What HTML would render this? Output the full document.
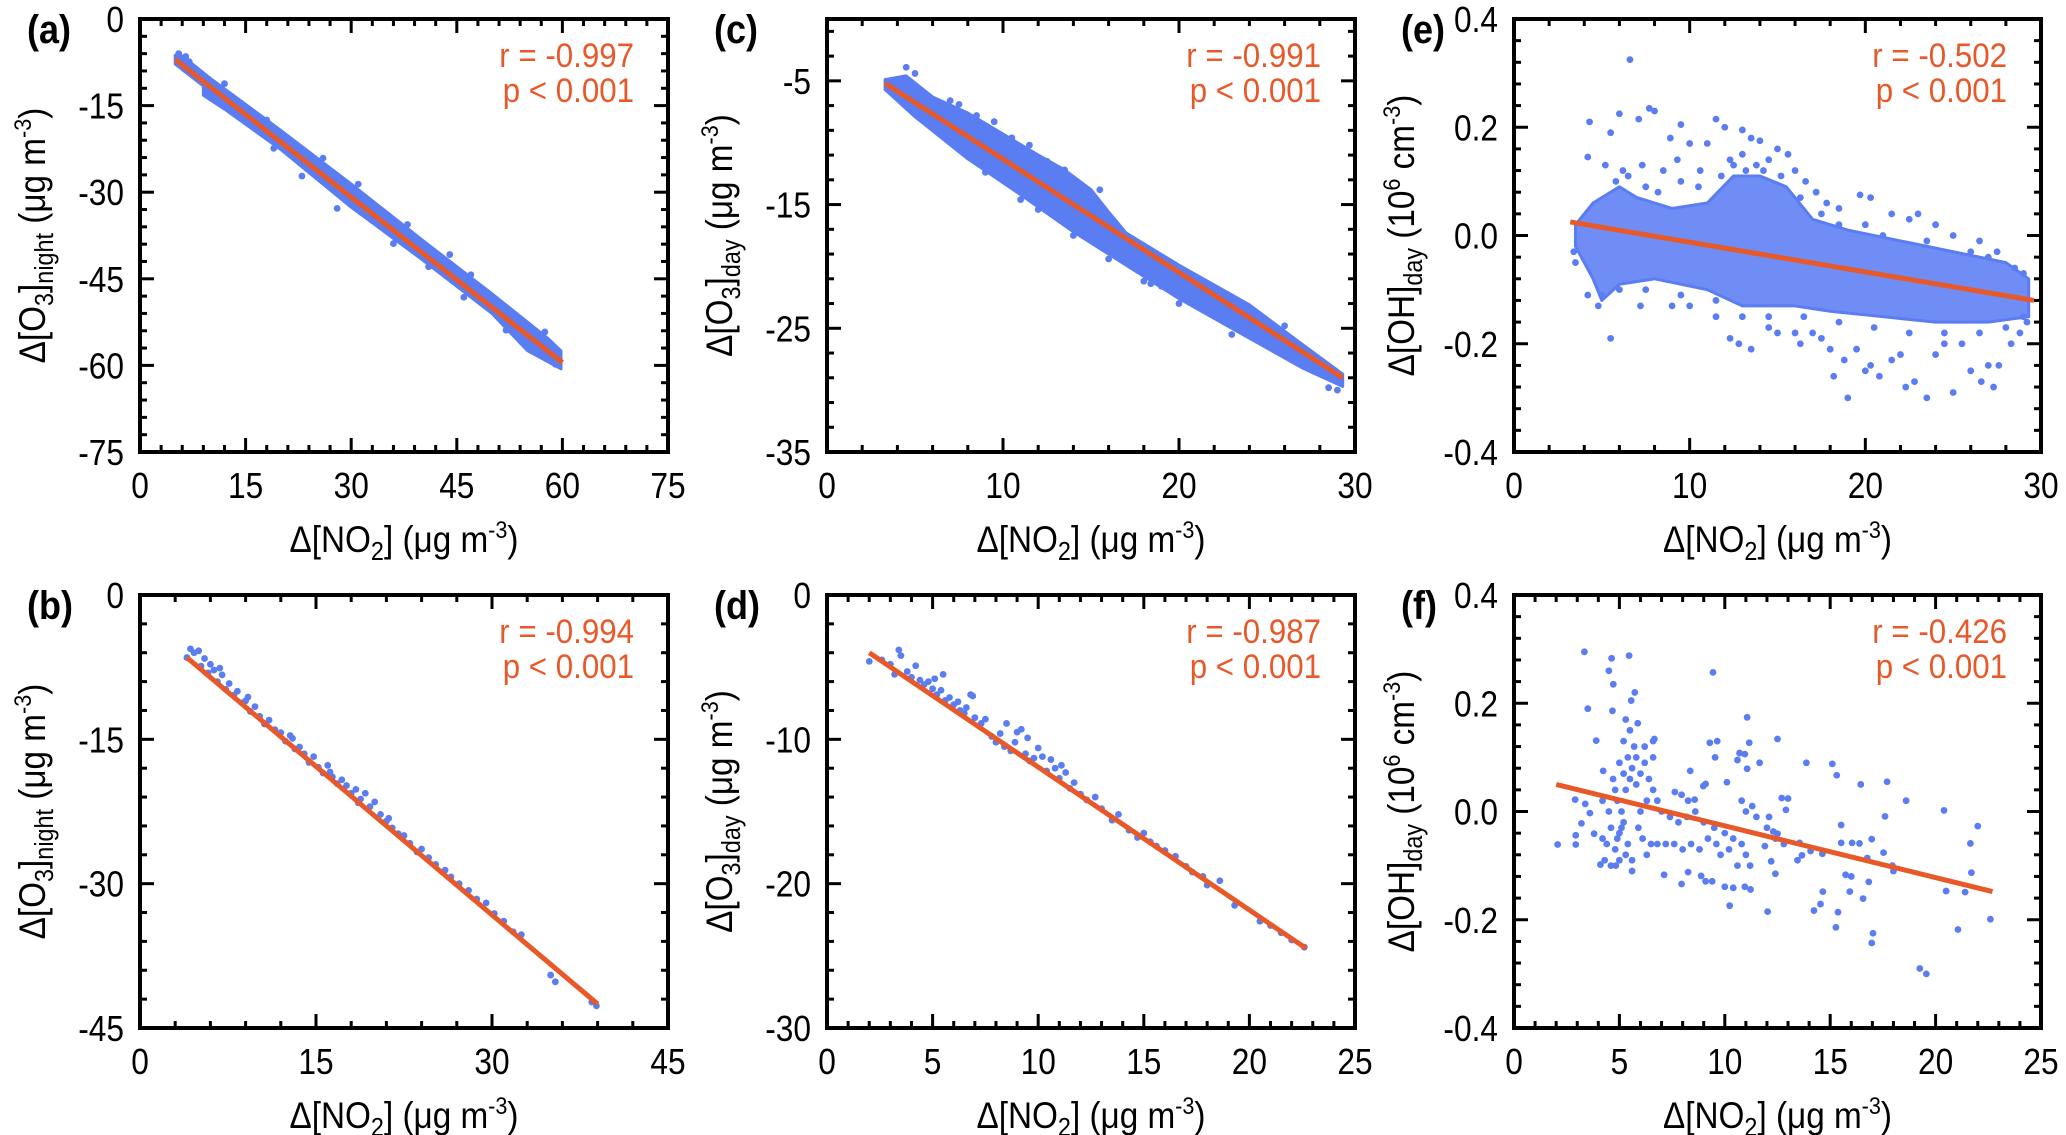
<!DOCTYPE html>
<html><head><meta charset="utf-8"><style>
html,body{margin:0;padding:0;background:#fff;}
svg{display:block;font-family:"Liberation Sans",Arial,sans-serif;}
</style></head><body>
<svg id="fig" xmlns="http://www.w3.org/2000/svg" width="2066" height="1135" viewBox="0 0 2066 1135"></svg>
<script>
// ---------- DATA ----------
const aLine = [[5, -7], [60, -59.5]];
const aBand = [[5,-6.3],[6,-6.4],[10,-10.3],[20,-19.3],[30,-28.6],[40,-38.2],[50,-47.6],[58,-55.4],[59.8,-57.5],[59.8,-60.6],[55,-57.4],[50,-51],[40,-41.6],[30,-32.6],[20,-22.6],[12,-15.6],[9,-13.2],[9,-11.6],[5,-7.8]];
const aPts = [[5.5,-6],[6.5,-6.5],[7,-7.4],[9.5,-12.8],[12,-11.2],[13,-14.8],[18,-17.5],[19,-22.4],[23,-27.2],[26,-24.1],[28,-32.8],[31,-28.6],[33,-34.9],[36,-38.9],[38,-35.6],[41,-42.9],[44,-40.8],[46,-48.2],[47,-44.3],[50,-48.2],[52,-53.9],[55,-52.9],[57,-57.6],[58,-58.3],[59,-59.8],[57.5,-54.2]];
const cLine = [[3.3, -5.2], [29.3, -29]];
const cBand = [[3.3,-4.9],[4.5,-4.6],[6,-6.3],[8,-7.6],[10,-9.3],[12,-11],[13.5,-12.2],[15,-13.8],[16,-15.6],[17,-17.3],[20,-19.9],[24,-23.1],[27,-26.3],[29.3,-28.7],[29.3,-29.7],[27,-28.2],[24,-25.8],[20,-22.6],[17,-19.9],[14,-17.2],[11,-14.2],[8,-11.3],[5,-7.9],[3.3,-5.7]];
const cPts = [[4.5,-3.9],[5,-4.4],[7,-6.6],[8.5,-7.8],[9.5,-8.3],[10.5,-9.6],[12.5,-11.5],[13.5,-12.2],[15.5,-13.8],[18,-21.2],[18.4,-21.4],[19,-21.6],[22,-22.8],[26,-24.8],[28.5,-29.8],[29,-30],[9,-12.4],[11,-14.6],[12,-15.4],[14,-17.5],[16,-19.4],[20,-23],[23,-25.5],[6,-8],[7.5,-6.9],[11.5,-10.2]];
const bLine = [[4, -6.5], [39, -42.5]];
const bPts = [[4,-6.5],[4.3,-5.6],[4.6,-6],[5,-5.8],[5.2,-7.4],[5.5,-6.6],[5.8,-8.1],[6,-7.2],[6.3,-7.8],[6.6,-9],[7,-8.3],[7.3,-9.8],[7.6,-9.2],[8,-10.4],[8.3,-10],[8.7,-11.2],[9,-11],[9.4,-12.1],[9.8,-11.6],[10.2,-12.6],[10.6,-13.4],[11,-13],[11.5,-14],[12,-14.3],[12.4,-15.2],[12.8,-14.6],[13.2,-16],[13.6,-15.8],[14,-16.5],[14.4,-17.4],[14.8,-16.8],[15.2,-17.9],[15.6,-18.5],[16,-17.7],[16.4,-18.9],[16.8,-19.6],[17.2,-19.2],[17.6,-19.8],[18,-20.6],[18.4,-20.2],[18.8,-21.2],[19.2,-20.6],[19.6,-22],[20,-21.5],[20.5,-22.8],[21,-23.5],[21.5,-24.2],[22,-24.8],[22.5,-25],[23,-25.8],[23.6,-26.7],[24,-26.4],[24.6,-27.3],[25.2,-28],[26,-28.6],[26.5,-29.3],[27.2,-30],[28,-30.7],[28.7,-31.6],[29.5,-32],[30.2,-33.1],[31,-33.9],[31.8,-35],[32.5,-35.3],[35,-39.5],[35.4,-40.2],[38.5,-42.3],[38.9,-42.7],[6.8,-7.6],[9.2,-10.6],[13,-14.9],[16.2,-18.4],[18.6,-21.6],[21.2,-23.2]];
const dLine = [[2, -4], [22.7, -24.5]];
const dPts = [[2,-4.6],[2.6,-4.5],[3,-4.8],[3.4,-3.8],[3.5,-4.2],[3.2,-5.5],[3.8,-5.3],[4,-5.7],[4.2,-4.9],[4.4,-5.9],[4.6,-6.2],[4.8,-6],[5,-6.5],[5.1,-5.8],[5.2,-6.9],[5.4,-6.6],[5.5,-5.5],[5.6,-7.3],[5.8,-7.1],[6,-7.6],[6.2,-7.4],[6.3,-8],[6.5,-8.2],[6.6,-7.8],[6.8,-6.9],[6.9,-7],[7,-8.5],[7.3,-8.9],[7.5,-8.6],[7.8,-9.8],[8,-10.2],[8.2,-9.6],[8.4,-10.5],[8.5,-8.9],[8.7,-10.8],[8.9,-10.2],[9,-9.5],[9.2,-9.3],[9.4,-11],[9.5,-9.9],[9.6,-11.5],[9.8,-11.3],[10,-10.6],[10.2,-11.2],[10.4,-12.2],[10.6,-11.4],[10.8,-12],[11,-12.7],[11.1,-11.8],[11.3,-12.3],[11.5,-13.4],[11.7,-13],[12,-13.8],[12.3,-14.2],[12.7,-14],[13,-14.8],[13.5,-15.6],[13.8,-15.2],[14.3,-16.3],[14.7,-16.8],[15,-16.5],[15.3,-17.1],[15.6,-17.4],[16,-17.7],[16.5,-18.1],[17,-18.8],[17.3,-19.2],[17.8,-19.5],[18,-20.1],[18.6,-19.8],[19.3,-21.5],[20.5,-22.6],[21,-22.9],[21.5,-23.4],[22,-23.9],[22.6,-24.4]];
const eLine = [[3.2, 0.025], [29.6, -0.12]];
const eCloud = [[3.5,0.02],[4.5,0.06],[6,0.09],[7,0.07],[9,0.05],[11,0.06],[12.5,0.11],[14,0.11],[15.5,0.09],[17,0.03],[19,0.01],[22,-0.01],[25,-0.03],[28,-0.05],[29.3,-0.08],[29.3,-0.15],[27,-0.16],[24,-0.16],[21,-0.15],[18,-0.14],[16,-0.13],[13,-0.13],[11,-0.1],[8,-0.08],[6,-0.09],[5,-0.12],[4.5,-0.08],[3.5,-0.02]];
const ePts = [[6.6,0.325],[7.7,0.235],[8,0.23],[6,0.225],[7.1,0.215],[4.3,0.21],[11.5,0.215],[9.5,0.205],[12,0.2],[13,0.195],[5.5,0.19],[8.9,0.18],[10,0.17],[11,0.17],[13.5,0.18],[14,0.175],[15,0.16],[15.6,0.15],[4.2,0.145],[5.2,0.13],[6.2,0.12],[7.3,0.13],[8.5,0.12],[9.3,0.14],[10.6,0.12],[12.3,0.14],[13,0.15],[13.8,0.13],[14.5,0.14],[16,0.12],[16.6,0.1],[17.2,0.08],[17.8,0.06],[18.5,0.05],[19.7,0.075],[20.3,0.07],[21.5,0.04],[22.5,0.03],[23,0.04],[24,0.02],[25,0.0],[26.5,-0.01],[27.5,-0.03],[28.5,-0.06],[3.4,-0.03],[3.5,-0.05],[4.2,-0.11],[4.8,-0.13],[5.5,-0.19],[7.2,-0.13],[9,-0.13],[10,-0.13],[11.5,-0.15],[12.3,-0.19],[12.8,-0.2],[13.5,-0.21],[14.5,-0.17],[15,-0.18],[16,-0.18],[16.3,-0.2],[17,-0.18],[17.5,-0.19],[18,-0.21],[18.2,-0.26],[18.8,-0.23],[19,-0.3],[19.5,-0.21],[20,-0.25],[20.3,-0.24],[20.8,-0.26],[21.5,-0.23],[22,-0.22],[22.3,-0.28],[22.8,-0.27],[23.5,-0.3],[24,-0.22],[24.5,-0.2],[25,-0.29],[25.5,-0.2],[26,-0.25],[26.6,-0.27],[27,-0.24],[27.3,-0.28],[27.6,-0.24],[28.3,-0.2],[28.8,-0.18],[29.2,-0.16],
[5.8,0.1],[6.5,0.11],[7.5,0.09],[8.2,0.08],[9.5,0.1],[10.5,0.09],[11.8,0.11],[12.5,0.13],[13.2,0.12],[14.2,0.12],[15.2,0.11],[16.3,0.07],[17.5,0.04],[18.5,0.02],[20,0.02],[21,0.0],[23.5,-0.01],[26,-0.03],[27,-0.04],[29,-0.07],[5,-0.11],[6,-0.1],[7.5,-0.1],[9.5,-0.11],[11.5,-0.12],[13,-0.15],[14.5,-0.15],[16.5,-0.15],[18.5,-0.16],[20.5,-0.17],[22.5,-0.18],[24.5,-0.18],[26.5,-0.18],[28,-0.17],[29,-0.15]];
const fLine = [[2, 0.05], [22.7, -0.148]];
const fPts = [[3.34,0.295],[4.63,0.283],[5.46,0.288],[4.5,0.26],[4.71,0.235],[3.5,0.19],[5.73,0.22],[5.56,0.205],[4.67,0.186],[9.44,0.257],[11.06,0.174],[3.9,0.131],[4.23,0.075],[5.87,0.163],[6.66,0.134],[9.29,0.127],[9.64,0.13],[9.54,0.1],[10.6,0.095],[10.95,0.106],[11.16,0.127],[11.06,0.079],[11.65,0.09],[12.5,0.134],[13.87,0.09],[15.1,0.088],[15.31,0.067],[16.45,0.05],[17.7,0.055],[18.6,0.02],[20.4,0.002],[22,-0.027],[21.65,-0.059],[21.7,-0.113],[21.4,-0.149],[21.06,-0.218],[22.6,-0.199],[20.5,-0.147],[19.25,-0.29],[19.56,-0.3],[17.03,-0.225],[16.97,-0.243],[15.27,-0.214],[15.37,-0.186],[14.23,-0.183],[14.54,-0.171],[14.65,-0.148],[15.93,-0.148],[16.56,-0.161],[16.83,-0.13],[15.73,-0.117],[16,-0.12],[15.52,-0.058],[16.04,-0.058],[16.39,-0.059],[15.52,-0.025],[16.97,-0.051],[17.6,-0.009],[17.53,-0.076],[16.76,-0.086],[17.95,-0.1],[18,-0.11],[14.63,-0.078],[14.07,-0.073],[13.45,-0.09],[13.66,-0.081],[12.03,-0.185],[10.23,-0.174],[10,-0.139],[10.4,-0.141],[10.95,-0.139],[11.22,-0.144],[9.4,-0.129],[9.09,-0.129],[8.26,-0.112],[7.95,-0.134],[7.12,-0.117],[8.88,-0.119],[4.83,-0.1],[4.1,-0.098],[2.07,-0.061],[2.93,-0.061],[2.93,-0.044],[2.9,0.022],[3.38,0.014],[3.6,-0.003],[3.2,-0.022],[3.8,-0.041],[7.63,0.036],[7.95,0.031],[8.36,0.075],[8.26,0.02],[8.57,0.022],[8.98,0.047],[9.09,0.051],[10.1,0.054],[10.7,0.108],[12.1,-0.01],[12.3,-0.037],[12.5,-0.041],[11.9,-0.064],[12.7,0.025],[13,0.024],[12.2,-0.092],[12.4,-0.115],[12.9,0.003],[13.55,-0.058],
[4.2,-0.05],[4.4,-0.06],[4.6,-0.03],[4.8,-0.07],[5,-0.04],[5.2,-0.02],[5.4,-0.06],[5.1,0],[4.9,0.02],[5.3,0.04],[5.5,0.06],[5.6,0.08],[5.4,0.1],[5.7,0.12],[5.2,0.13],[5.5,0.15],[5.8,0.05],[6,0.07],[6.2,0.09],[6.4,0.06],[6.6,0.04],[6.3,0.02],[6,0],[5.9,-0.03],[6.1,-0.05],[6.5,-0.06],[6.8,-0.06],[7.2,-0.06],[7.6,-0.06],[8,-0.07],[8.4,-0.06],[8.8,-0.07],[9.2,-0.05],[9.6,-0.06],[10,-0.04],[10.4,-0.05],[10.8,-0.06],[11,-0.08],[11.2,-0.1],[10.6,-0.1],[10.2,-0.07],[9.8,-0.08],[9.5,-0.03],[9,-0.02],[8.6,0],[8.2,-0.01],[7.8,-0.02],[7.4,-0.01],[7,0],[6.8,0.02],[11,0],[11.3,0.01],[10.8,0.02],[11.5,-0.01],[12,-0.03],[12.4,-0.05],[12.8,-0.06],[4.3,-0.09],[4.6,-0.1],[5,-0.09],[5.3,-0.08],[5.6,-0.09],[4.5,0],[4.2,0.02],[5.8,0.1],[6.2,0.12],[6.6,0.1],[4.7,0.06],[5,0.09],[5.3,0.17],[5.6,-0.11],[6.3,-0.08],[6.6,0.13],[5.1,-0.03],[4.9,-0.05],[5.2,0.07],[4.8,0.04]];
const aStats = ["r = -0.997", "p < 0.001"];
const bStats = ["r = -0.994", "p < 0.001"];
const cStats = ["r = -0.991", "p < 0.001"];
const dStats = ["r = -0.987", "p < 0.001"];
const eStats = ["r = -0.502", "p < 0.001"];
const fStats = ["r = -0.426", "p < 0.001"];
const xTicksA = [0,15,30,45,60,75];
const yTicksA = [0,-15,-30,-45,-60,-75];
const xTicksB = [0,15,30,45];
const yTicksB = [0,-15,-30,-45];
const xTicksC = [0,10,20,30];
const yTicksC = [-5,-15,-25,-35];
const xTicksD = [0,5,10,15,20,25];
const yTicksD = [0,-10,-20,-30];
const xTicksE = [0,10,20,30];
const yTicksE = [0.4,0.2,0.0,-0.2,-0.4];
const xTicksF = [0,5,10,15,20,25];
const yTicksF = [0.4,0.2,0.0,-0.2,-0.4];

// ---------- DRAW ----------
const NS = "http://www.w3.org/2000/svg";
const svg = document.getElementById('fig');
const BLUE = "#5b7df2", ORANGE = "#e8592a";
function mk(tag, attrs, parent) {
  const e = document.createElementNS(NS, tag);
  for (const k in attrs) e.setAttribute(k, attrs[k]);
  (parent || svg).appendChild(e);
  return e;
}
const O3N = 'Δ[O<tspan font-size="26" dy="8">3</tspan><tspan dy="-8">]</tspan><tspan font-size="26" dy="8">night</tspan><tspan dy="-8"> (μg m</tspan><tspan font-size="24" dy="-14">-3</tspan><tspan dy="14">)</tspan>';
const O3D = 'Δ[O<tspan font-size="26" dy="8">3</tspan><tspan dy="-8">]</tspan><tspan font-size="26" dy="8">day</tspan><tspan dy="-8"> (μg m</tspan><tspan font-size="24" dy="-14">-3</tspan><tspan dy="14">)</tspan>';
const OHD = 'Δ[OH]<tspan font-size="26" dy="8">day</tspan><tspan dy="-8"> (10</tspan><tspan font-size="24" dy="-14">6</tspan><tspan dy="14"> cm</tspan><tspan font-size="24" dy="-14">-3</tspan><tspan dy="14">)</tspan>';
const NO2 = 'Δ[NO<tspan font-size="26" dy="8">2</tspan><tspan dy="-8">] (μg m</tspan><tspan font-size="24" dy="-14">-3</tspan><tspan dy="14">)</tspan>';

const panels = [
  {id:'a', L:140, R:668, T:19, B:452, xd:[0,75], yd:[-75,0], xt:xTicksA, yt:yTicksA, xm:3, ym:3, dec:0, band:aBand, pts:aPts, line:aLine, st:aStats, yl:O3N, yoff:95},
  {id:'b', L:140, R:668, T:595, B:1028, xd:[0,45], yd:[-45,0], xt:xTicksB, yt:yTicksB, xm:3, ym:3, dec:0, band:null, pts:bPts, line:bLine, st:bStats, yl:O3N, yoff:95},
  {id:'c', L:827, R:1355, T:19, B:452, xd:[0,30], yd:[-35,0], xt:xTicksC, yt:yTicksC, xm:2, ym:2, dec:0, band:cBand, pts:cPts, line:cLine, st:cStats, yl:O3D, yoff:95},
  {id:'d', L:827, R:1355, T:595, B:1028, xd:[0,25], yd:[-30,0], xt:xTicksD, yt:yTicksD, xm:1, ym:2, dec:0, band:null, pts:dPts, line:dLine, st:dStats, yl:O3D, yoff:95},
  {id:'e', L:1514, R:2041, T:19, B:452, xd:[0,30], yd:[-0.4,0.4], xt:xTicksE, yt:yTicksE, xm:2, ym:0.04, dec:1, band:eCloud, pts:ePts, line:eLine, st:eStats, yl:OHD, yoff:100},
  {id:'f', L:1514, R:2041, T:595, B:1028, xd:[0,25], yd:[-0.4,0.4], xt:xTicksF, yt:yTicksF, xm:1, ym:0.04, dec:1, band:null, pts:fPts, line:fLine, st:fStats, yl:OHD, yoff:100}
];

panels.forEach(p => {
  const g = mk('g', {});
  
  
  const X = v => p.L + (v - p.xd[0]) / (p.xd[1] - p.xd[0]) * (p.R - p.L);
  const Y = v => p.B - (v - p.yd[0]) / (p.yd[1] - p.yd[0]) * (p.B - p.T);

  if (p.band) {
    const poly = mk('polygon', {points: p.band.map(d => X(d[0]) + ',' + Y(d[1])).join(' '), fill: BLUE, 'fill-opacity': p.id === 'e' ? 0.88 : 1, stroke: BLUE, 'stroke-width': 3, 'stroke-linejoin': 'round'}, g);
    
    
  }
  p.pts.forEach(d => {
    const c = mk('circle', {cx: X(d[0]), cy: Y(d[1]), r: 3.4, fill: BLUE}, g);
    
    
  });
  const ln = mk('line', {x1: X(p.line[0][0]), y1: Y(p.line[0][1]), x2: X(p.line[1][0]), y2: Y(p.line[1][1]), stroke: ORANGE, 'stroke-width': 5}, g);
  
  

  const eps = 1e-6;
  for (let v = p.xd[0]; v <= p.xd[1] + eps; v += p.xm) {
    const major = p.xt.some(t => Math.abs(t - v) < eps);
    const len = major ? 14 : 7, x = X(v);
    mk('line', {x1: x, y1: p.B, x2: x, y2: p.B - len, stroke: '#000', 'stroke-width': 3}, g);
    mk('line', {x1: x, y1: p.T, x2: x, y2: p.T + len, stroke: '#000', 'stroke-width': 3}, g);
  }
  for (let v = p.yd[0]; v <= p.yd[1] + eps; v += p.ym) {
    const major = p.yt.some(t => Math.abs(t - v) < eps);
    const len = major ? 14 : 7, y = Y(v);
    mk('line', {x1: p.L, y1: y, x2: p.L + len, y2: y, stroke: '#000', 'stroke-width': 3}, g);
    mk('line', {x1: p.R, y1: y, x2: p.R - len, y2: y, stroke: '#000', 'stroke-width': 3}, g);
  }
  const box = mk('rect', {x: p.L, y: p.T, width: p.R - p.L, height: p.B - p.T, fill: 'none', stroke: '#000', 'stroke-width': 4}, g);
  
  

  p.xt.forEach(v => {
    const t = mk('text', {transform: `translate(${X(v)},${p.B + 46}) scale(0.88,1)`, 'text-anchor': 'middle', 'font-size': 36}, g);
    t.textContent = String(v);
    
    
  });
  p.yt.forEach(v => {
    const t = mk('text', {transform: `translate(${p.L - 16},${Y(v) + 13}) scale(0.88,1)`, 'text-anchor': 'end', 'font-size': 36}, g);
    t.textContent = v.toFixed(p.dec);
    
    
  });
  const xt = mk('text', {transform: `translate(${(p.L + p.R) / 2},${p.B + 100}) scale(0.9,1)`, 'text-anchor': 'middle', 'font-size': 37}, g);
  xt.innerHTML = NO2;
  
  
  const yt = mk('text', {transform: `translate(${p.L - p.yoff},${(p.T + p.B) / 2}) rotate(-90) scale(0.9,1)`, 'text-anchor': 'middle', 'font-size': 37}, g);
  yt.innerHTML = p.yl;
  
  

  p.st.forEach((s, i) => {
    const t = mk('text', {transform: `translate(${p.R - 34},${p.T + 48 + i * 35}) scale(0.92,1)`, 'text-anchor': 'end', 'font-size': 34, fill: ORANGE}, g);
    t.textContent = s;
    
    
  });
  const lab = mk('text', {transform: `translate(${p.L - 113},${p.T + 24}) scale(0.9,1)`, 'font-size': 40, 'font-weight': 'bold'}, g);
  lab.textContent = '(' + p.id + ')';
  
  
});
</script>
</body></html>
